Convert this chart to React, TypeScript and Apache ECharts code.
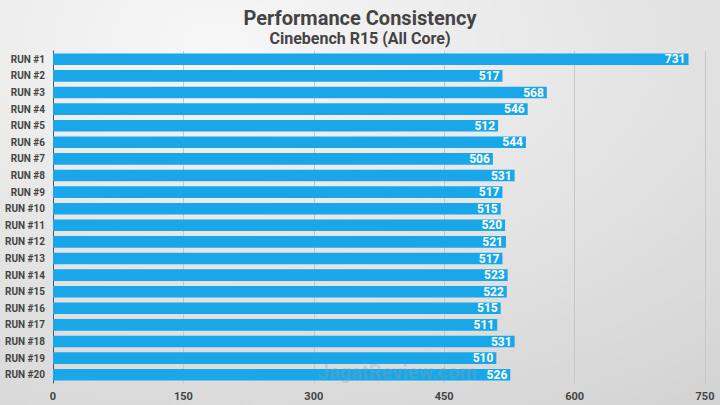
import React, { useEffect, useRef } from "react";
import * as echarts from "echarts";

const categories = [
  "RUN #1", "RUN #2", "RUN #3", "RUN #4", "RUN #5", "RUN #6", "RUN #7", "RUN #8", "RUN #9", "RUN #10",
  "RUN #11", "RUN #12", "RUN #13", "RUN #14", "RUN #15", "RUN #16", "RUN #17", "RUN #18", "RUN #19", "RUN #20",
];
const scores = [731, 517, 568, 546, 512, 544, 506, 531, 517, 515, 520, 521, 517, 523, 522, 515, 511, 531, 510, 526];
const titleText = "Performance Consistency";
const subtitleText = "Cinebench R15 (All Core)";
const watermarkText = "JagatReview.com";
const axisMin = 0;
const axisMax = 750;
const axisStep = 150;

export default function App() {
  const ref = useRef<HTMLDivElement>(null);
  useEffect(() => {
    if (!ref.current) return;
    const chart = echarts.init(ref.current, undefined, { renderer: "svg" });
    chart.setOption({
      animation: false,
      backgroundColor: new echarts.graphic.RadialGradient(0.3, 0.1, 1.1, [
        { offset: 0, color: "#f7f7f7" },
        { offset: 1, color: "#d4d4d4" },
      ]),
      title: {
        text: titleText,
        subtext: subtitleText,
        left: "center",
        top: 3,
        itemGap: 2,
        textStyle: { fontFamily: "Roboto", fontWeight: "bold", fontSize: 20, color: "#444" },
        subtextStyle: { fontFamily: "Roboto", fontWeight: "bold", fontSize: 16, color: "#444" },
      },
      grid: { left: 53, right: 15, top: 51, bottom: 22, containLabel: false },
      xAxis: {
        type: "value",
        min: axisMin,
        max: axisMax,
        interval: axisStep,
        axisLine: { show: false },
        axisTick: { show: false },
        axisLabel: { color: "#444", fontFamily: "Roboto", fontWeight: "bold", fontSize: 11, margin: 8 },
        splitLine: { show: true, lineStyle: { color: "#c8c8c8", width: 1 } },
      },
      yAxis: {
        type: "category",
        data: categories,
        inverse: true,
        axisLine: { show: true, lineStyle: { color: "#555", width: 1 } },
        axisTick: { show: false },
        axisLabel: { color: "#444", fontFamily: "Roboto", fontWeight: "bold", fontSize: 10, margin: 8 },
      },
      series: [
        {
          type: "bar",
          data: scores,
          barCategoryGap: "30%",
          itemStyle: { color: "#18a8ea" },
          label: {
            show: true,
            position: "insideRight",
            distance: 3,
            color: "#fff",
            fontFamily: "Roboto",
            fontWeight: "bold",
            fontSize: 12,
          },
        },
      ],
      graphic: [
        {
          type: "text",
          left: 318,
          top: 362,
          style: {
            text: watermarkText,
            fontFamily: "Roboto",
            fontWeight: "bold",
            fontSize: 20,
            fill: "rgba(150,160,170,0.3)",
          },
          z: 100,
        },
      ],
    });
    return () => chart.dispose();
  }, []);
  return <div ref={ref} style={{ position: "absolute", left: 0, top: 0, width: 720, height: 405 }} />;
}
